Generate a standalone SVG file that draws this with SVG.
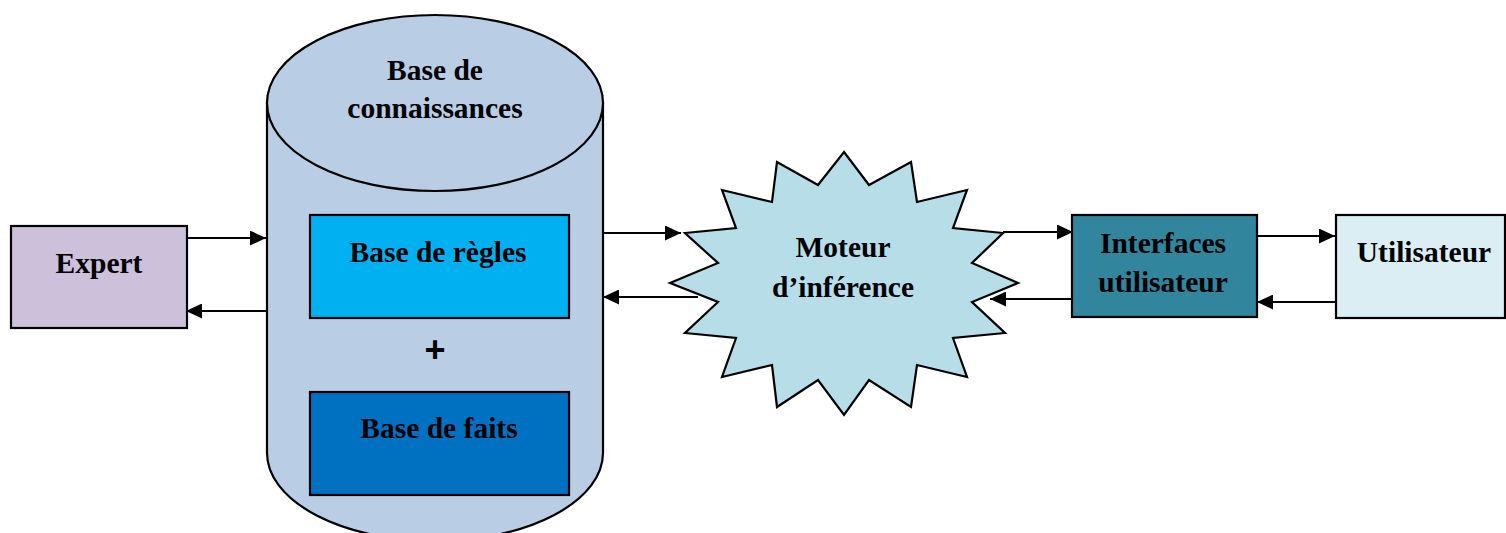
<svg xmlns="http://www.w3.org/2000/svg" width="1506" height="533" viewBox="0 0 1506 533">
<style>
.n{stroke:#000;stroke-width:2.2}
.t{font-family:"Liberation Serif","Times New Roman",serif;font-weight:bold;font-size:29.5px;text-anchor:middle;fill:#000}
.c{stroke:#000;stroke-width:2;fill:none}
</style>
<defs>
<marker id="ah" markerUnits="userSpaceOnUse" markerWidth="17" markerHeight="15" refX="16" refY="7.5" orient="auto">
<path d="M0,0 L16,7.5 L0,15 Z" fill="#000"/>
</marker>
</defs>
<rect width="1506" height="533" fill="#fff"/>
<g id="expert">
<rect class="n" x="11" y="226" width="176" height="102" fill="#CCC0DA"/>
<text class="t" x="99" y="273">Expert</text>
</g>
<g id="base-connaissances">
<path class="n" d="M267,103 L267,453 A168,88 0 0 0 603,453 L603,103 Z" fill="#B9CDE5"/>
<ellipse class="n" cx="435" cy="103" rx="168" ry="88" fill="#B9CDE5"/>
<text class="t" x="435" y="80">Base de</text>
<text class="t" x="435" y="118">connaissances</text>
<text x="435" y="362" style="font-family:'Liberation Sans',Arial,sans-serif;font-weight:bold;font-size:36px;text-anchor:middle">+</text>
</g>
<g id="base-regles">
<rect class="n" x="310" y="215" width="259" height="103" fill="#00B0F0"/>
<text class="t" x="438" y="262">Base de règles</text>
</g>
<g id="base-faits">
<rect class="n" x="310" y="392" width="259" height="103" fill="#0070C0"/>
<text class="t" x="439" y="438">Base de faits</text>
</g>
<g id="moteur">
<polygon class="n" fill="#B7DEE8" points="844,152 869,185 911,162 917,202 967,190 953,228 1003,233 972,263 1018,283 972,302 1005,333 953,338 967,377 917,365 911,407 869,380 844,415 818,380 777,407 772,365 722,377 736,338 685,333 718,302 670,283 718,263 685,233 736,228 722,190 772,202 777,162 818,185"/>
<text class="t" x="843" y="257">Moteur</text>
<text class="t" x="843" y="297">d’inférence</text>
</g>
<g id="interfaces">
<rect class="n" x="1072" y="215" width="185" height="102" fill="#31859C"/>
<text class="t" x="1163" y="253">Interfaces</text>
<text class="t" x="1163" y="292">utilisateur</text>
</g>
<g id="utilisateur">
<rect class="n" x="1336" y="215" width="169" height="103" fill="#DBEEF4"/>
<text class="t" x="1424" y="262">Utilisateur</text>
</g>
<g id="connectors">
<line class="c" x1="187" y1="238" x2="266" y2="238" marker-end="url(#ah)"/>
<line class="c" x1="267" y1="311" x2="186" y2="311" marker-end="url(#ah)"/>
<line class="c" x1="603" y1="233" x2="681" y2="233" marker-end="url(#ah)"/>
<line class="c" x1="698" y1="297" x2="603" y2="297" marker-end="url(#ah)"/>
<line class="c" x1="1003" y1="232" x2="1073" y2="232" marker-end="url(#ah)"/>
<line class="c" x1="1072" y1="299" x2="990" y2="299" marker-end="url(#ah)"/>
<line class="c" x1="1257" y1="236" x2="1335" y2="236" marker-end="url(#ah)"/>
<line class="c" x1="1336" y1="302" x2="1257" y2="302" marker-end="url(#ah)"/>
</g>
</svg>
